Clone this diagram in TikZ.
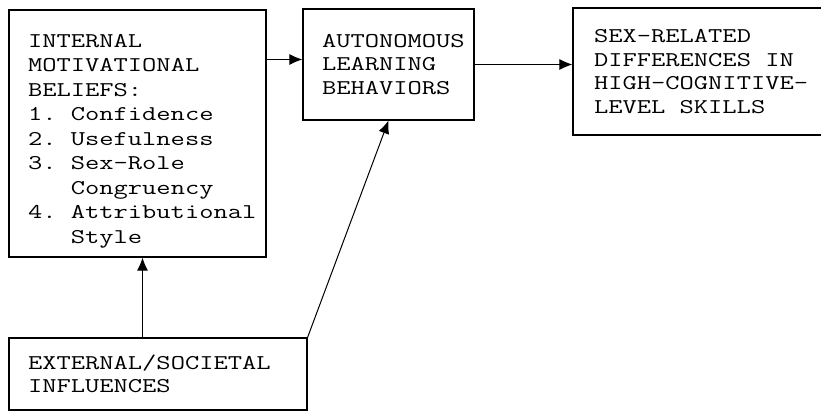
\documentclass[tikz,border=0pt]{standalone}
\usepackage{fontspec}
\setmonofont[FakeStretch=1.32]{Latin Modern Mono}
\usepackage{tikz}
\usetikzlibrary{arrows.meta}
\usetikzlibrary{positioning}
\tikzset{auto,>={Latex[length=13pt,width=11pt]}, node distance=1cm, font=\ttfamily\fontsize{21}{23.5}\selectfont}
\tikzstyle{block} = [draw, line width=1.1pt, fill=white, rectangle, inner xsep=19pt, inner ysep=0pt, align=left]
\tikzstyle{link} = [line width=1pt]
\newcommand{\blank}{\phantom{x}}

\begin{document}
\begin{tikzpicture}[x=1pt, y=-1pt]
		\useasboundingbox (0,0) rectangle (821,413);
		\node [block, minimum width=257pt, minimum height=247pt, text width=219pt, font=\ttfamily\fontsize{21}{24.5}\selectfont] (beliefs) at (137.5,133.5)
			{\rule{0pt}{28pt}INTERNAL\\ MOTIVATIONAL\\ BELIEFS:\\ 1.\blank Confidence\\ 2.\blank Usefulness\\ 3.\blank Sex-Role\\ \phantom{3.x}Congruency\\ 4.\blank Attributional\\ \phantom{4.x}Style};
		\node [block, minimum width=171pt, minimum height=111pt, text width=133pt] (behaviors) at (388.5,64.5)
			{AUTONOMOUS\\ LEARNING\\ BEHAVIORS};
		\node [block, minimum width=262pt, minimum height=127pt, text width=220pt, inner xsep=21pt] (skills) at (704,71.5)
			{SEX-RELATED\\ DIFFERENCES\blank IN\\ \mbox{HIGH-COGNITIVE-}\\ LEVEL\blank SKILLS};
		\node [block, minimum width=298pt, minimum height=72pt, text width=260pt] (influences) at (158,374)
			{EXTERNAL/SOCIETAL\\ INFLUENCES};

		\draw [link, ->] ([yshift=5pt]beliefs.east |- behaviors.west) -- ([yshift=5pt]behaviors.west);
		\draw [link, ->] (behaviors.east) -- (behaviors.east -| skills.west);
		\draw [link, ->] ([xshift=5pt]beliefs.south |- influences.north) -- ([xshift=5pt]beliefs.south);
		\draw [link, ->] (influences.north east) -- (behaviors.south);
	\end{tikzpicture}
\end{document}
